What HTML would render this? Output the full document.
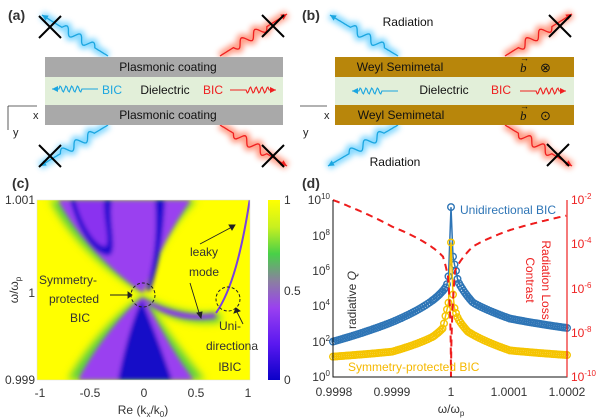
<!DOCTYPE html>
<html><head><meta charset="utf-8"><style>
body{margin:0;background:#fff}
svg{display:block;font-family:"Liberation Sans",sans-serif}
</style></head><body>
<svg id="s" width="600" height="420" viewBox="0 0 600 420" xmlns="http://www.w3.org/2000/svg">
<defs>
<filter id="glowb" x="-20%" y="-20%" width="140%" height="140%"><feGaussianBlur stdDeviation="3"/></filter>
<filter id="bl" x="-20%" y="-20%" width="140%" height="140%"><feGaussianBlur stdDeviation="4"/></filter>
<filter id="bl2" x="-20%" y="-20%" width="140%" height="140%"><feGaussianBlur stdDeviation="2"/></filter>
<linearGradient id="cb" x1="0" y1="1" x2="0" y2="0">
<stop offset="0" stop-color="#0a00c8"/><stop offset="0.2" stop-color="#5a18f0"/><stop offset="0.4" stop-color="#9a40f0"/><stop offset="0.55" stop-color="#8a80a0"/><stop offset="0.7" stop-color="#48d048"/><stop offset="0.85" stop-color="#c8f020"/><stop offset="1" stop-color="#ffff00"/>
</linearGradient>
<clipPath id="cp"><rect x="37" y="200" width="213" height="180"/></clipPath>
</defs>

<!-- Panel a -->
<text x="8" y="20" font-size="14" font-weight="bold" fill="#333">(a)</text>
<g id="waves"></g>
<rect x="45" y="57" width="238" height="20" fill="#a9a9a9"/>
<rect x="45" y="77" width="238" height="28" fill="#e2efd9"/>
<rect x="45" y="105" width="238" height="20" fill="#a9a9a9"/>
<g id="sws"></g>
<text x="168" y="71" font-size="12" text-anchor="middle" fill="#111">Plasmonic coating</text>
<text x="168" y="119" font-size="12" text-anchor="middle" fill="#111">Plasmonic coating</text>
<text x="165" y="94" font-size="12" text-anchor="middle" fill="#111">Dielectric</text>
<text x="112" y="94" font-size="12" text-anchor="middle" fill="#1ba6e0">BIC</text>
<text x="213" y="94" font-size="12" text-anchor="middle" fill="#ee2020">BIC</text>
<path d="M8 106 H37 M8 106 V130" stroke="#333" stroke-width="0.8" fill="none"/>
<text x="33" y="119" font-size="11" fill="#222">x</text><text x="13" y="136" font-size="11" fill="#222">y</text>

<!-- Panel b -->
<text x="302" y="20" font-size="14" font-weight="bold" fill="#333">(b)</text>
<rect x="335" y="57" width="239" height="20" fill="#b8860b"/>
<rect x="335" y="77" width="239" height="28" fill="#e2efd9"/>
<rect x="335" y="105" width="239" height="20" fill="#b8860b"/>
<g id="sws2"></g>
<text x="400" y="71" font-size="12" text-anchor="middle" fill="#111">Weyl Semimetal</text>
<text x="401" y="119" font-size="12" text-anchor="middle" fill="#111">Weyl Semimetal</text>
<text x="520" y="72" font-size="13" font-style="italic" font-family="Liberation Serif,serif" fill="#111">b</text>
<text x="520" y="120" font-size="13" font-style="italic" font-family="Liberation Serif,serif" fill="#111">b</text>
<text x="520" y="61" font-size="9" fill="#111">→</text><text x="520" y="109" font-size="9" fill="#111">→</text>
<text x="540" y="72" font-size="13" fill="#111">⊗</text><text x="540" y="120" font-size="13" fill="#111">⊙</text>
<text x="444" y="94" font-size="12" text-anchor="middle" fill="#111">Dielectric</text>
<text x="501" y="94" font-size="12" text-anchor="middle" fill="#ee2020">BIC</text>
<text x="408" y="26" font-size="12" text-anchor="middle" fill="#111">Radiation</text>
<text x="395" y="166" font-size="12" text-anchor="middle" fill="#111">Radiation</text>
<path d="M300 106 H327" stroke="#333" stroke-width="0.8"/>
<text x="324" y="119" font-size="11" fill="#222">x</text><text x="303" y="136" font-size="11" fill="#222">y</text>

<!-- Panel c -->
<text x="12" y="188" font-size="14" font-weight="bold" fill="#333">(c)</text>
<g clip-path="url(#cp)">
<rect x="37" y="200" width="213" height="180" fill="#ffff00"/>
<g filter="url(#bl)">
<path d="M50 200 C70 240 110 275 143 293 C150 270 165 230 197 200 Z" fill="#5bd040"/>
<path d="M68 380 C90 340 125 305 143 296 C160 320 180 350 205 380 Z" fill="#5bd040"/>
<path d="M143 296 C170 310 195 315 218 312 L222 322 C195 326 165 320 143 300 Z" fill="#5bd040"/>
</g>
<g filter="url(#bl2)">
<path d="M58 200 C78 238 112 272 143 293 C152 268 168 232 191 200 Z" fill="#9a40f0"/>
<path d="M78 380 C98 342 127 308 143 297 C158 322 172 352 194 380 Z" fill="#9a40f0"/>
<path d="M143 298 C170 312 195 317 215 313 L216 318 C192 322 165 318 143 300 Z" fill="#8a30f0"/>
<path d="M70 200 C80 240 100 258 110 255 C118 250 108 220 112 200 Z" fill="#2010d0"/>
<path d="M75 200 C85 235 100 248 106 246 C110 240 103 218 104 200 Z" fill="#8a30f0"/>
<path d="M155 200 C158 240 152 270 146 290 L150 291 C158 268 163 240 165 200 Z" fill="#1a10d0"/>
<path d="M118 380 C126 340 136 310 142 300 C150 320 162 350 172 380 Z" fill="#1510c8"/>
</g>
<path d="M216 313 C232 290 242 250 250 198" stroke="#7a40e0" stroke-width="2" fill="none"/>
</g>
<rect x="37" y="200" width="213" height="180" fill="none" stroke="#ddd" stroke-width="0.5"/>
<circle cx="143" cy="295" r="12" fill="none" stroke="#222" stroke-dasharray="3,2"/>
<circle cx="228" cy="299" r="12" fill="none" stroke="#222" stroke-dasharray="3,2"/>
<g fill="#333" font-size="12" text-anchor="middle">
<text x="68" y="284">Symmetry-</text><text x="74" y="303">protected</text><text x="80" y="322">BIC</text>
<text x="204" y="256">leaky</text><text x="204" y="276">mode</text>
<text x="230" y="330">Uni-</text><text x="232" y="350">directiona</text><text x="230" y="371">lBIC</text>
</g>
<g stroke="#222" stroke-width="0.9" fill="#222">
<path d="M110 295 H128"/><path d="M128 292 L132 295 L128 298Z"/>
<path d="M190 283 L200 316"/><path d="M197 313 L201 318 L202 312Z"/>
<path d="M200 244 L232 227"/><path d="M229 225 L235 225 L232 230Z"/>
<path d="M243 324 L237 312"/><path d="M234 313 L236 308 L240 311Z"/>
</g>
<g font-size="12" fill="#333">
<text x="35" y="204" text-anchor="end">1.001</text>
<text x="35" y="297" text-anchor="end">1</text>
<text x="35" y="384" text-anchor="end">0.999</text>
<text x="40" y="397" text-anchor="middle">-1</text>
<text x="90" y="397" text-anchor="middle">-0.5</text>
<text x="144" y="397" text-anchor="middle">0</text>
<text x="196" y="397" text-anchor="middle">0.5</text>
<text x="248" y="397" text-anchor="middle">1</text>
<text x="143" y="414" text-anchor="middle">Re (k<tspan font-size="8" dy="3">x</tspan><tspan dy="-3">/k</tspan><tspan font-size="8" dy="3">0</tspan><tspan dy="-3">)</tspan></text>
<text transform="translate(18 290) rotate(-90)" text-anchor="middle">ω/ω<tspan font-size="8" dy="3">p</tspan></text>
</g>
<rect x="268" y="200" width="12" height="180" fill="url(#cb)"/>
<g font-size="12" fill="#333"><text x="284" y="204">1</text><text x="284" y="295">0.5</text><text x="284" y="384">0</text></g>

<!-- Panel d -->
<text x="302" y="188" font-size="14" font-weight="bold" fill="#333">(d)</text>
<g id="dplot"></g>
<path d="M333 200 V377 H567 V200" stroke="#111" stroke-width="1" fill="none"/>
<path d="M567 200 V377" stroke="#e22" stroke-width="1.2"/>
<g font-size="12" fill="#333" text-anchor="end">
<text x="330" y="204">10<tspan font-size="8" dy="-5">10</tspan></text>
<text x="330" y="240">10<tspan font-size="8" dy="-5">8</tspan></text>
<text x="330" y="275">10<tspan font-size="8" dy="-5">6</tspan></text>
<text x="330" y="310">10<tspan font-size="8" dy="-5">4</tspan></text>
<text x="330" y="346">10<tspan font-size="8" dy="-5">2</tspan></text>
<text x="330" y="381">10<tspan font-size="8" dy="-5">0</tspan></text>
</g>
<g font-size="12" fill="#e22">
<text x="571" y="204">10<tspan font-size="8" dy="-5">-2</tspan></text>
<text x="571" y="248">10<tspan font-size="8" dy="-5">-4</tspan></text>
<text x="571" y="293">10<tspan font-size="8" dy="-5">-6</tspan></text>
<text x="571" y="337">10<tspan font-size="8" dy="-5">-8</tspan></text>
<text x="571" y="381">10<tspan font-size="8" dy="-5">-10</tspan></text>
</g>
<g font-size="12" fill="#333" text-anchor="middle">
<text x="334" y="396">0.9998</text><text x="392" y="396">0.9999</text><text x="451" y="396">1</text>
<text x="509" y="396">1.0001</text><text x="567" y="396">1.0002</text>
<text x="451" y="413">ω/ω<tspan font-size="8" dy="3">p</tspan></text>
<text transform="translate(356 300) rotate(-90)">radiative <tspan font-style="italic">Q</tspan></text>
</g>
<g font-size="12" fill="#e22" text-anchor="middle">
<text transform="translate(542 280) rotate(90)">Radiation Loss</text>
<text transform="translate(526 280) rotate(90)">Contrast</text>
</g>
<text x="460" y="214" font-size="12" fill="#2e75b6">Unidirectional BIC</text>
<text x="348" y="371" font-size="12" fill="#f5b800">Symmetry-protected BIC</text>
</svg>
<script>
var NS="http://www.w3.org/2000/svg";
function el(p,t,a){var e=document.createElementNS(NS,t);for(var k in a)e.setAttribute(k,a[k]);p.appendChild(e);return e;}
var W=document.getElementById("waves");
function wave(x1,y1,x2,y2,col,glow,arrow){
 var dx=x2-x1,dy=y2-y1,L=Math.hypot(dx,dy),ux=dx/L,uy=dy/L,nx=-uy,ny=ux,d="";
 for(var i=0;i<=60;i++){var t=i/60,s=t*L,a=(t>0.2&&t<0.7)?4*Math.sin((t-0.2)/0.5*Math.PI*5):0;
  d+=(i?"L":"M")+(x1+ux*s+nx*a).toFixed(1)+" "+(y1+uy*s+ny*a).toFixed(1);}
 el(W,"path",{d:d,stroke:glow,"stroke-width":8,fill:"none",opacity:0.7,filter:"url(#glowb)"});
 el(W,"path",{d:d,stroke:col,"stroke-width":1.3,fill:"none"});
 if(arrow){var hx=x2,hy=y2;el(W,"path",{d:"M"+hx+" "+hy+"L"+(hx-ux*6+nx*3)+" "+(hy-uy*6+ny*3)+"L"+(hx-ux*6-nx*3)+" "+(hy-uy*6-ny*3)+"Z",fill:col});}
}
function cross(x,y){el(W,"path",{d:"M"+(x-11)+" "+(y-11)+"L"+(x+11)+" "+(y+11)+"M"+(x+11)+" "+(y-11)+"L"+(x-11)+" "+(y+11),stroke:"#000","stroke-width":2});}
var B="#1ba6e0",BG="#50c8ff",R="#f02020",RG="#ff7050";
wave(108,56,42,15,B,BG,true);wave(220,56,287,14,R,RG,true);
wave(108,125,40,166,B,BG,true);wave(220,125,287,166,R,RG,true);
cross(50,27);cross(273,26);cross(50,156);cross(273,156);
wave(398,56,330,15,B,BG,true);wave(505,56,572,14,R,RG,true);
wave(398,125,328,166,B,BG,true);wave(505,125,572,166,R,RG,true);
cross(560,26);cross(558,155);
var SW=document.getElementById("sws");
function sw(x1,x2,y,col){var d="";for(var i=0;i<=40;i++){var x=x1+(x2-x1)*i/40,t=i/40;var a=(t>0.35&&t<0.85)?3*Math.sin((t-0.35)/0.5*Math.PI*8):0;d+=(i?"L":"M")+x.toFixed(1)+" "+(y+a).toFixed(1);}
 el(SW,"path",{d:d,stroke:col,"stroke-width":1.1,fill:"none"});
 var dir=x2>x1?1:-1;el(SW,"path",{d:"M"+x2+" "+y+"L"+(x2-dir*6)+" "+(y-3)+"L"+(x2-dir*6)+" "+(y+3)+"Z",fill:col});}
sw(98,52,89,B);sw(230,276,90,R);
SW=document.getElementById("sws2");
sw(398,352,91,B);sw(520,566,91,R);
var D=document.getElementById("dplot");
function YL(lg){return 377-lg*17.7;}
function YR(lg){return 377-(lg+10)*22.125;}
function interp(tab,o){var s=Math.sqrt(o);for(var i=1;i<tab.length;i++){if(o<=tab[i][0]){var a=Math.sqrt(tab[i-1][0]),b=Math.sqrt(tab[i][0]);var t=(s-a)/(b-a);return tab[i-1][1]+t*(tab[i][1]-tab[i-1][1]);}}return tab[tab.length-1][1];}
function curve(L,Rt,col){
 var pts=[];
 for(var o=118;o>=2;o-=(o>20?2.2:1.5)){pts.push([451-o,YL(interp(L,o))]);}
 pts.push([451,YL(L[0][1])]);
 for(var o=2;o<=116;o+=(o>20?2.2:1.5)){pts.push([451+o,YL(interp(Rt,o))]);}
 pts.push([567,YL(interp(Rt,116))]);
 var path=pts.map(function(p,i){return (i?"L":"M")+p[0].toFixed(1)+" "+p[1].toFixed(1);}).join("");
 el(D,"path",{d:path,stroke:col,"stroke-width":1.5,fill:"none"});
 pts.forEach(function(p){el(D,"circle",{cx:p[0],cy:p[1],r:3.3,fill:"none",stroke:col,"stroke-width":1.4});});}
curve([[0,9.6],[2,6],[3,5.4],[5,5.1],[18,4.35],[59,3.1],[118,2.0]],
      [[0,9.6],[2,6.8],[5,6.0],[7,5.4],[22,4.2],[59,3.3],[116,2.77]],"#2e75b6");
curve([[0,7.6],[2,4.35],[5,3.6],[8,2.77],[18,2.28],[59,1.43],[118,1.15]],
      [[0,7.6],[3,4.0],[7,3.3],[17,2.56],[59,1.5],[116,1.24]],"#f5c400");
var RL=[[0,-10],[1,-7],[3,-5.47],[8,-4.56],[59,-3.2],[118,-2]],RR=[[0,-10],[1.5,-7],[4,-5.2],[22,-4.1],[59,-3.36],[116,-2.7]];
var d="";for(var o=118;o>=0;o-=(o>10?1:0.25)){d+=(d?"L":"M")+(451-o).toFixed(2)+" "+YR(interp(RL,o)).toFixed(1);}
for(var o=0;o<=116;o+=(o>10?1:0.25)){d+="L"+(451+o).toFixed(2)+" "+YR(interp(RR,o)).toFixed(1);}
el(D,"path",{d:d,stroke:"#ee1c1c","stroke-width":2,fill:"none","stroke-dasharray":"7,5"});
</script>
</body></html>
